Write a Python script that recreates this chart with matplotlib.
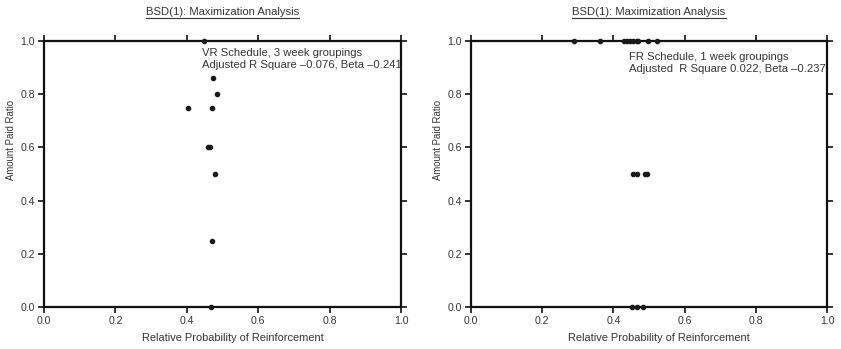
import matplotlib
matplotlib.use("Agg")
import matplotlib.pyplot as plt
from matplotlib.lines import Line2D

plt.rcParams['font.family'] = ['Liberation Sans', 'DejaVu Sans']

title = "BSD(1): Maximization Analysis"
xlabel = "Relative Probability of Reinforcement"
ylabel = "Amount Paid Ratio"
ticks = [0.0, 0.2, 0.4, 0.6, 0.8, 1.0]

vr_x = [0.447, 0.474, 0.485, 0.404, 0.471, 0.458, 0.466, 0.480, 0.471, 0.467]
vr_y = [1.00, 0.86, 0.80, 0.75, 0.75, 0.60, 0.60, 0.50, 0.25, 0.00]
vr_text = ["VR Schedule, 3 week groupings", "Adjusted R Square \u20130.076, Beta \u20130.241"]

fr_x = [0.288, 0.363, 0.429, 0.437, 0.446, 0.456, 0.465, 0.470, 0.496, 0.523,
        0.455, 0.466, 0.490, 0.495,
        0.453, 0.467, 0.482]
fr_y = [1.0, 1.0, 1.0, 1.0, 1.0, 1.0, 1.0, 1.0, 1.0, 1.0,
        0.5, 0.5, 0.5, 0.5,
        0.0, 0.0, 0.0]
fr_text = ["FR Schedule, 1 week groupings", "Adjusted  R Square 0.022, Beta \u20130.237"]

fig = plt.figure(figsize=(8.41, 3.49), dpi=100)
W, H = 841, 349
FS = 8.1
TFS = 7.6

def make_ax(x0px, x1px, xs, ys, texts, tx, ty):
    ax = fig.add_axes([x0px / W, 1 - 307 / H, (x1px - x0px) / W, (307 - 41) / H])
    ax.plot(xs, ys, 'o', color='#1a1a1a', markersize=3.0, clip_on=False, zorder=5)
    ax.set_xlim(0, 1)
    ax.set_ylim(0, 1)
    ax.set_xticks(ticks)
    ax.set_yticks(ticks)
    ax.set_xticklabels([f"{t:.1f}" for t in ticks])
    ax.set_yticklabels([f"{t:.1f}" for t in ticks])
    for s in ax.spines.values():
        s.set_linewidth(1.6)
        s.set_color('#111111')
    ax.tick_params(direction='out', length=4, width=1.2, colors='#111111',
                   labelsize=TFS, labelcolor='#333333',
                   top=True, right=True, pad=2.5)
    ax.set_xlabel(xlabel, fontsize=7.9, color='#333333')
    ax.xaxis.set_label_coords(0.529, -0.098)
    ax.set_ylabel(ylabel, fontsize=6.9, color='#333333', va='center')
    ax.yaxis.set_label_coords(-0.092, 0.626)
    ax.text(tx, ty, texts[0] + "\n" + texts[1], transform=ax.transAxes,
            fontsize=FS, color='#333333', va='top', ha='left', linespacing=1.3)
    cx = (x0px + x1px) / 2
    t = fig.text(cx / W, 1 - 12 / H, title, ha='center', va='center',
                 fontsize=FS, color='#333333')
    return ax, t

ax1, t1 = make_ax(44, 401, vr_x, vr_y, vr_text, 0.443, 0.975)
ax2, t2 = make_ax(471, 827, fr_x, fr_y, fr_text, 0.443, 0.96)

fig.canvas.draw()
r = fig.canvas.get_renderer()
for t in (t1, t2):
    bb = t.get_window_extent(renderer=r)
    x0, x1 = bb.x0 / W, bb.x1 / W
    yl = (bb.y0 - 1) / H
    fig.add_artist(Line2D([x0, x1], [yl, yl], color='#333333', linewidth=0.8,
                          transform=fig.transFigure))

fig.savefig("out.png", dpi=100)
